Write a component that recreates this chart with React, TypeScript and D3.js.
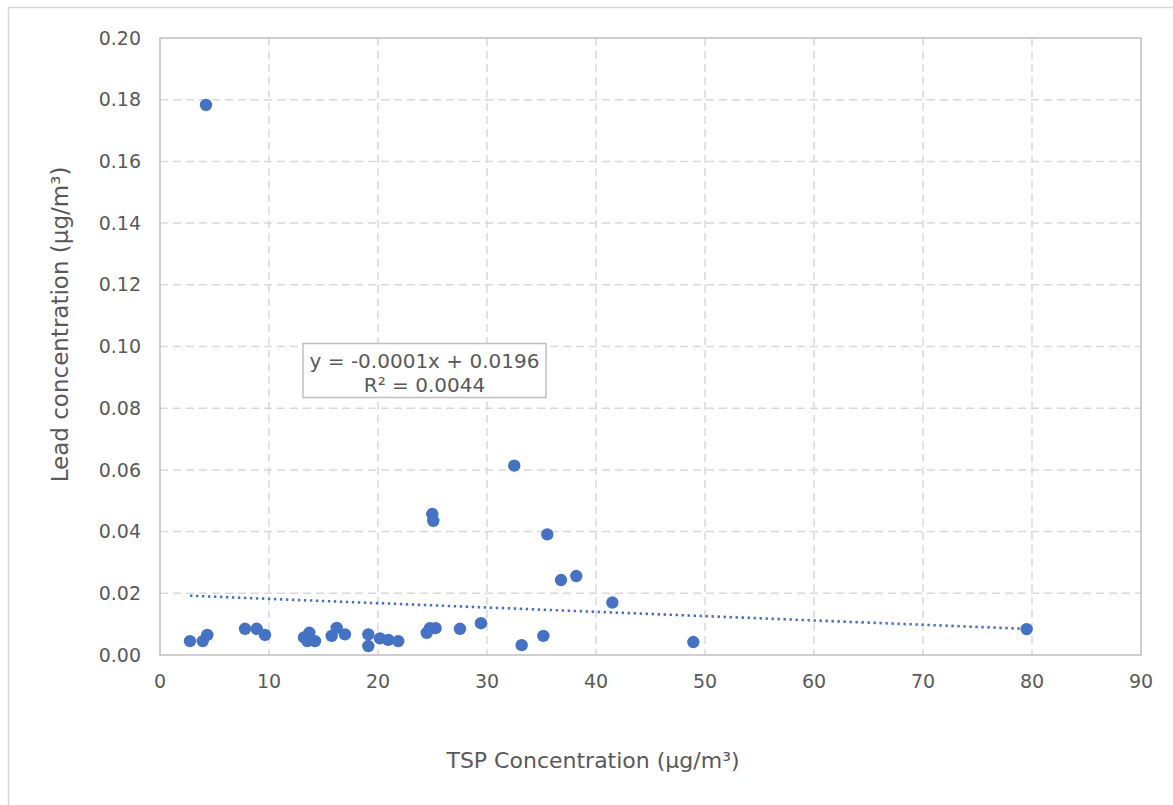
import React from "react";
import * as d3 from "d3";

const tspValues = [4.22, 2.75, 3.92, 4.34, 7.8, 8.87, 9.63, 13.21, 13.7, 13.51, 14.22, 15.75, 16.21, 16.97, 19.11, 19.11, 20.18, 20.94, 21.86, 24.47, 24.77, 25.28, 27.52, 29.45, 32.5, 24.98, 25.07, 33.18, 35.17, 35.53, 36.79, 38.19, 41.5, 48.93, 79.51];
const leadValues = [0.1783, 0.0045, 0.0045, 0.0065, 0.0085, 0.0085, 0.0065, 0.0057, 0.0072, 0.0045, 0.0045, 0.0062, 0.0088, 0.0067, 0.0067, 0.0029, 0.0054, 0.0049, 0.0045, 0.0072, 0.0087, 0.0087, 0.0085, 0.0103, 0.0614, 0.0457, 0.0435, 0.0032, 0.0062, 0.0391, 0.0243, 0.0256, 0.017, 0.0042, 0.0084];
const xTicks = [0, 10, 20, 30, 40, 50, 60, 70, 80, 90];
const yTicks = [0, 0.02, 0.04, 0.06, 0.08, 0.1, 0.12, 0.14, 0.16, 0.18, 0.2];
const trendSlope = -0.00014;
const trendIntercept = 0.0196;
const equationLines = ["y = -0.0001x + 0.0196", "R² = 0.0044"];
const xTitle = "TSP Concentration (µg/m³)";
const yTitle = "Lead concentration (µg/m³)";

const W = 1173;
const H = 805;
const left = 160, right = 1141, top = 38, bottom = 655;
const font = "'DejaVu Sans', Verdana, sans-serif";
const textColor = "#595959";
const pointColor = "#4472C4";

export default function App() {
  const x = d3.scaleLinear().domain([0, 90]).range([left, right]);
  const y = d3.scaleLinear().domain([0, 0.2]).range([bottom, top]);
  const xMin = d3.min(tspValues) as number;
  const xMax = d3.max(tspValues) as number;
  const trend = d3.line<number>().x((d) => x(d)).y((d) => y(trendIntercept + trendSlope * d));
  return (
    <svg width={W} height={H} style={{ position: "absolute", left: 0, top: 0, background: "#fff" }}>
      <rect x={0} y={0} width={W} height={H} fill="#fff" />
      <rect x={8.5} y={7.5} width={W + 20} height={H + 20} fill="none" stroke="#d9d9d9" strokeWidth={1.5} />
      {xTicks.slice(1, -1).map((t) => (
        <line key={"gx" + t} x1={x(t)} x2={x(t)} y1={top} y2={bottom} stroke="#d9d9d9" strokeWidth={1.5} strokeDasharray="8 5" />
      ))}
      {yTicks.slice(1, -1).map((t) => (
        <line key={"gy" + t} x1={left} x2={right} y1={y(t)} y2={y(t)} stroke="#d9d9d9" strokeWidth={1.5} strokeDasharray="8 5" />
      ))}
      <rect x={left} y={top} width={right - left} height={bottom - top} fill="none" stroke="#bfbfbf" strokeWidth={1.5} />
      {yTicks.map((t) => (
        <text key={"ty" + t} x={141} y={y(t)} dy="0.35em" textAnchor="end" fontFamily={font} fontSize={19} fill={textColor}>
          {t.toFixed(2)}
        </text>
      ))}
      {xTicks.map((t) => (
        <text key={"tx" + t} x={x(t)} y={681} dy="0.35em" textAnchor="middle" fontFamily={font} fontSize={19} fill={textColor}>
          {t}
        </text>
      ))}
      <path d={trend([xMin, xMax]) || ""} fill="none" stroke={pointColor} strokeWidth={2.6} strokeDasharray="2.4 3.6" />
      {tspValues.map((v, i) => (
        <circle key={"p" + i} cx={x(v)} cy={y(leadValues[i])} r={6.2} fill={pointColor} />
      ))}
      <rect x={303} y={343.5} width={243} height={54} fill="#fff" stroke="#bfbfbf" strokeWidth={1.5} />
      <text x={424.5} y={360.5} dy="0.35em" textAnchor="middle" fontFamily={font} fontSize={20} fill={textColor}>
        {equationLines[0]}
      </text>
      <text x={424.5} y={384.5} dy="0.35em" textAnchor="middle" fontFamily={font} fontSize={20} fill={textColor}>
        {equationLines[1]}
      </text>
      <text transform="translate(60,324.5) rotate(-90)" dy="0.35em" textAnchor="middle" fontFamily={font} fontSize={23} fill={textColor}>
        {yTitle}
      </text>
      <text x={593} y={760} dy="0.35em" textAnchor="middle" fontFamily={font} fontSize={22} fill={textColor}>
        {xTitle}
      </text>
    </svg>
  );
}
